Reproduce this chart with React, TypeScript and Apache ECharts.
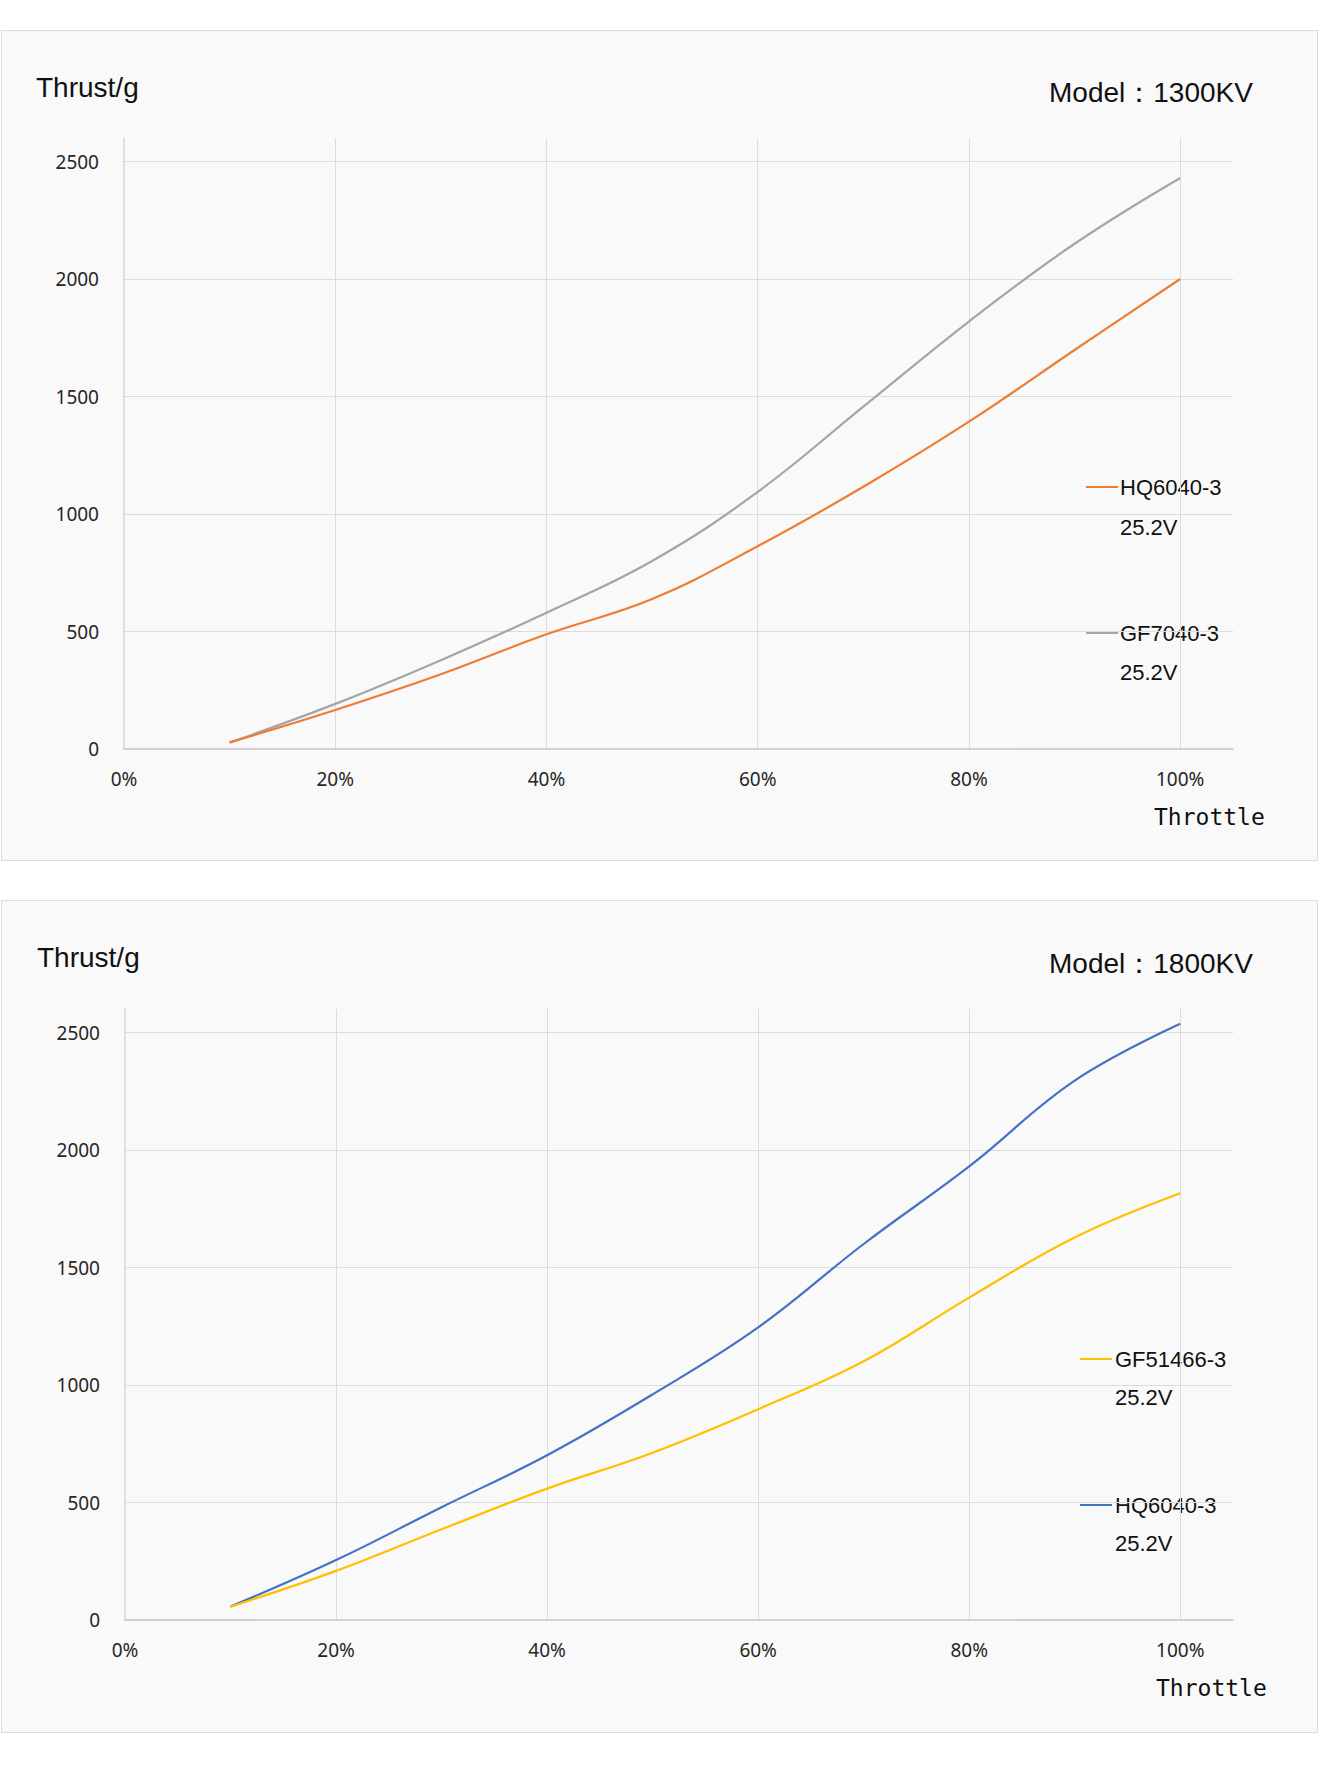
import React, { useEffect, useRef } from "react";
import * as echarts from "echarts";

// Throttle (%) sample points
const THROTTLE = [10, 20, 30, 40, 50, 60, 70, 80, 90, 100];
const X_TICKS = ["0%", "20%", "40%", "60%", "80%", "100%"];
const Y_TICKS = [0, 500, 1000, 1500, 2000, 2500];

// Model 1300KV
const HQ6040_1300 = [28, 166, 318, 488, 638, 863, 1116, 1393, 1698, 2000];
const GF7040_1300 = [27, 192, 378, 580, 800, 1094, 1457, 1819, 2150, 2430];

// Model 1800KV
const HQ6040_1800 = [57, 255, 480, 701, 960, 1245, 1600, 1930, 2295, 2537];
const GF51466_1800 = [57, 209, 386, 559, 712, 897, 1101, 1372, 1628, 1816];

const ORANGE = "#ED7D31";
const GRAY = "#A5A5A5";
const YELLOW = "#FFC000";
const BLUE = "#4472C4";

const TICK_FONT = '"Noto Sans", sans-serif';
const TEXT_FONT = '"Liberation Sans", Arial, sans-serif';

function pairs(ys: number[]) {
  return THROTTLE.map((x, i) => [x, ys[i]]);
}

function axes(gridIndex: number) {
  const xAxis = {
    type: "value",
    gridIndex,
    min: 0,
    max: 105,
    interval: 20,
    axisLine: { show: true, lineStyle: { color: "#c4c4c4", width: 1.5 } },
    axisTick: { show: false },
    axisLabel: {
      showMaxLabel: false,
      margin: 20,
      color: "#262626",
      fontFamily: TICK_FONT,
      fontSize: 19,
      formatter: (v: number) => {
        const idx = Math.round(v / 20);
        return v % 20 === 0 && idx < X_TICKS.length ? X_TICKS[idx] : "";
      },
    },
    splitLine: { show: true, showMaxLine: false, showMinLine: false, lineStyle: { color: "#dcdcdc", width: 1 } },
  };
  const yAxis = {
    type: "value",
    gridIndex,
    min: 0,
    max: 2600,
    interval: 500,
    axisLine: { show: true, lineStyle: { color: "#d6d6d6", width: 1.5 } },
    axisTick: { show: false },
    axisLabel: {
      showMaxLabel: false,
      margin: 25,
      color: "#262626",
      fontFamily: TICK_FONT,
      fontSize: 19,
      formatter: (v: number) => (Y_TICKS.includes(v) ? String(v) : ""),
    },
    splitLine: { show: true, showMaxLine: false, showMinLine: false, lineStyle: { color: "#dcdcdc", width: 1 } },
  };
  return { xAxis, yAxis };
}

function lineSeries(name: string, ys: number[], color: string, idx: number) {
  return {
    type: "line",
    name,
    xAxisIndex: idx,
    yAxisIndex: idx,
    data: pairs(ys),
    smooth: 0.4,
    symbol: "none",
    lineStyle: { color, width: 2.2 },
    itemStyle: { color },
  };
}

function txt(x: number, y: number, text: string, size: number, family = TEXT_FONT) {
  return {
    type: "text",
    x,
    y,
    silent: true,
    style: {
      text,
      fill: "#111",
      font: `${size}px ${family}`,
      align: "left",
      verticalAlign: "middle",
    },
  };
}

function seg(x1: number, x2: number, y: number, color: string) {
  return {
    type: "line",
    silent: true,
    shape: { x1, y1: y, x2, y2: y },
    style: { stroke: color, lineWidth: 2 },
  };
}

export default function App() {
  const ref = useRef<HTMLDivElement>(null);

  useEffect(() => {
    if (!ref.current) return;
    const chart = echarts.init(ref.current, undefined, { renderer: "svg" });
    const a0 = axes(0);
    const a1 = axes(1);
    const OFF = 871;
    chart.setOption({
      animation: false,
      backgroundColor: "transparent",
      grid: [
        { left: 124, top: 138, width: 1109, height: 611 },
        { left: 125, top: 138 + OFF, width: 1108, height: 611 },
      ],
      xAxis: [a0.xAxis, a1.xAxis],
      yAxis: [a0.yAxis, a1.yAxis],
      series: [
        lineSeries("GF7040-3", GF7040_1300, GRAY, 0),
        lineSeries("HQ6040-3", HQ6040_1300, ORANGE, 0),
        lineSeries("HQ6040-3 (1800KV)", HQ6040_1800, BLUE, 1),
        lineSeries("GF51466-3", GF51466_1800, YELLOW, 1),
      ],
      graphic: [
        // top panel texts
        txt(36, 87, "Thrust/g", 28),
        txt(1049, 92, "Model：1300KV", 28),
        seg(1086, 1118, 487, ORANGE),
        txt(1120, 487, "HQ6040-3", 22),
        txt(1120, 527, "25.2V", 22),
        seg(1086, 1118, 633, GRAY),
        txt(1120, 633, "GF7040-3", 22),
        txt(1120, 672, "25.2V", 22),
        txt(1154, 817, "Throttle", 23, '"DejaVu Sans Mono", monospace'),
        // bottom panel texts
        txt(37, 957, "Thrust/g", 28),
        txt(1049, 963, "Model：1800KV", 28),
        seg(1080, 1112, 1359, YELLOW),
        txt(1115, 1359, "GF51466-3", 22),
        txt(1115, 1397, "25.2V", 22),
        seg(1080, 1112, 1505, BLUE),
        txt(1115, 1505, "HQ6040-3", 22),
        txt(1115, 1543, "25.2V", 22),
        txt(1156, 1688, "Throttle", 23, '"DejaVu Sans Mono", monospace'),
      ],
    });
    return () => chart.dispose();
  }, []);

  const panel = (top: number, height: number): React.CSSProperties => ({
    position: "absolute",
    left: 1,
    top,
    width: 1317,
    height,
    background: "#f9f9f9",
    border: "1px solid #dcdcdc",
    boxSizing: "border-box",
  });

  return (
    <div style={{ position: "absolute", left: 0, top: 0, width: 1320, height: 1774, background: "#fff" }}>
      <div style={panel(30, 831)} />
      <div style={panel(900, 833)} />
      <div ref={ref} style={{ position: "absolute", left: 0, top: 0, width: 1320, height: 1774 }} />
    </div>
  );
}
